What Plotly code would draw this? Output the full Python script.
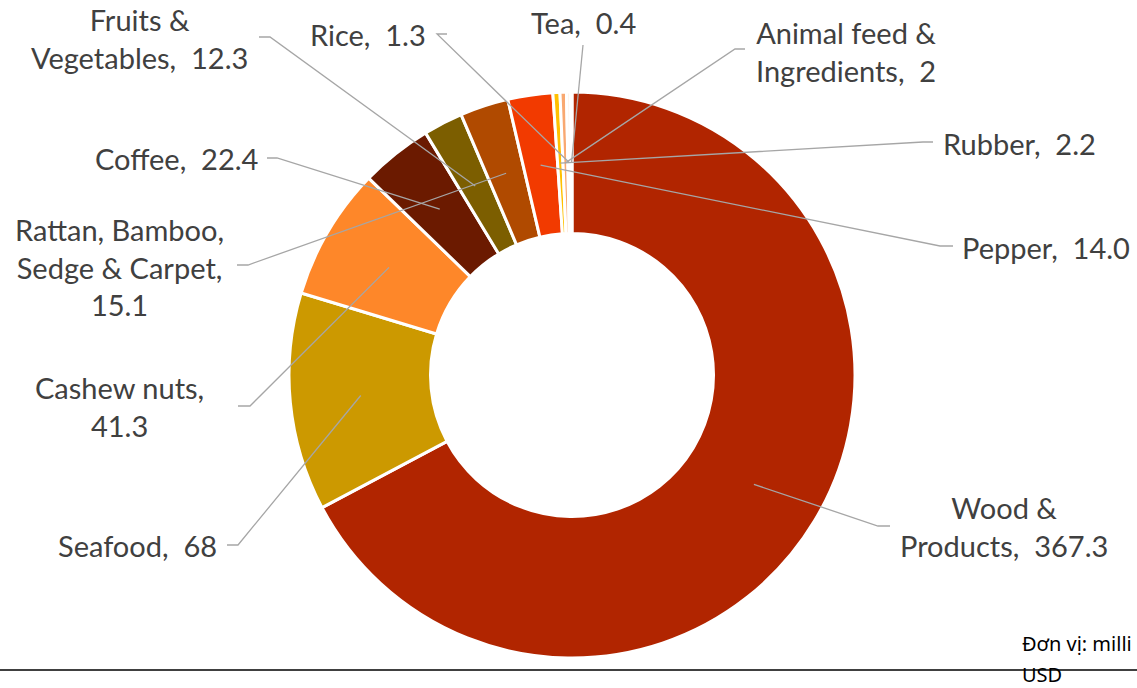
import math
import plotly.graph_objects as go

# slices, clockwise from 12 o'clock
labels = ["Wood & Products", "Seafood", "Cashew nuts", "Coffee", "Fruits & Vegetables",
          "Rattan, Bamboo, Sedge & Carpet", "Pepper", "Rubber", "Animal feed & Ingredients",
          "Rice", "Tea"]
values = [367.3, 68, 41.3, 22.4, 12.3, 15.1, 14.0, 2.2, 2, 1.3, 0.4]
value_text = ["367.3", "68", "41.3", "22.4", "12.3", "15.1", "14.0", "2.2", "2", "1.3", "0.4"]
colors = ["#B12500", "#CC9900", "#FE8729", "#6B1A00", "#7C5E00",
          "#B04A00", "#F23A00", "#FFC000", "#F9A870", "#FFF4EA", "#FFF8F2"]

# how each label is wrapped (name part, joined with the value)
label_text = [
    "Wood &<br>Products,",
    "Seafood,",
    "Cashew nuts,<br>",
    "Coffee,",
    "Fruits &<br>Vegetables,",
    "Rattan, Bamboo,<br>Sedge & Carpet,<br>",
    "Pepper,",
    "Rubber,",
    "Animal feed &<br>Ingredients,",
    "Rice,",
    "Tea,",
]

W, H = 1137, 688
CX, CY, R = 572, 375, 283
HOLE = 0.5

# label placement in pixels: text centre, leader tick start, leader elbow
label_pos = [
    ((1004, 526), (890, 526), (878, 526)),
    ((137, 545), (227, 545), (238, 545)),
    ((119, 406), (238, 406), (250, 406)),
    ((176, 159), (267, 158), (277, 158)),
    ((139, 39), (259, 37), (270, 37)),
    ((119, 267), (237, 265), (248, 265)),
    ((1046, 247), (953, 246), (940, 246)),
    ((1019, 143), (933, 142), (923, 142)),
    ((846, 51), (745, 49), (735, 49)),
    ((368, 35), (447, 34), (437, 34)),
    ((583, 23), (583, 45), (583, 45)),
]

px_x = lambda x: x / W
px_y = lambda y: 1 - y / H

fig = go.Figure()

fig.add_trace(go.Pie(
    labels=labels,
    values=values,
    sort=False,
    direction="clockwise",
    rotation=0,
    hole=HOLE,
    textinfo="none",
    hoverinfo="label+value",
    marker=dict(colors=colors, line=dict(color="white", width=3)),
    domain=dict(x=[px_x(CX - R), px_x(CX + R)], y=[px_y(CY + R), px_y(CY - R)]),
    showlegend=False,
))

# leader lines end in the middle of the ring, at each slice's mid angle
total = sum(values)
r_mid = R * (1 + HOLE) / 2
shapes = []
annotations = []
cum = 0
for i, v in enumerate(values):
    a = math.radians((cum + v / 2) / total * 360)
    cum += v
    ax, ay = CX + r_mid * math.sin(a), CY - r_mid * math.cos(a)
    (tx, ty), (sx, sy), (ex, ey) = label_pos[i]
    path = f"M{px_x(sx)},{px_y(sy)} L{px_x(ex)},{px_y(ey)} L{px_x(ax)},{px_y(ay)}"
    shapes.append(dict(type="path", xref="paper", yref="paper", path=path,
                       line=dict(color="#A6A6A6", width=1.3), layer="above"))
    sep = "" if label_text[i].endswith("<br>") else "\u00a0 "
    annotations.append(dict(
        x=px_x(tx), y=px_y(ty), xref="paper", yref="paper",
        text=label_text[i] + sep + value_text[i],
        showarrow=False, xanchor="center", yanchor="middle", align="center",
        font=dict(family="Lato", size=29, color="#404040"),
    ))

# bottom rule and unit note
shapes.append(dict(type="line", xref="paper", yref="paper",
                   x0=0, x1=1, y0=px_y(670), y1=px_y(670),
                   line=dict(color="black", width=1.5), layer="above"))
annotations.append(dict(x=px_x(1020), y=px_y(643), xref="paper", yref="paper",
                        text="Đơn vị: milli", showarrow=False, xanchor="left", yanchor="middle",
                        font=dict(family="Noto Sans", size=20, color="black")))
annotations.append(dict(x=px_x(1020), y=px_y(674), xref="paper", yref="paper",
                        text="USD", showarrow=False, xanchor="left", yanchor="middle",
                        font=dict(family="Noto Sans", size=20, color="black")))

fig.update_layout(
    width=W, height=H,
    margin=dict(l=0, r=0, t=0, b=0),
    paper_bgcolor="white",
    plot_bgcolor="white",
    shapes=shapes,
    annotations=annotations,
)

fig.write_html("out.html", config={"displayModeBar": False},
               post_script="document.body.style.margin='0';")
